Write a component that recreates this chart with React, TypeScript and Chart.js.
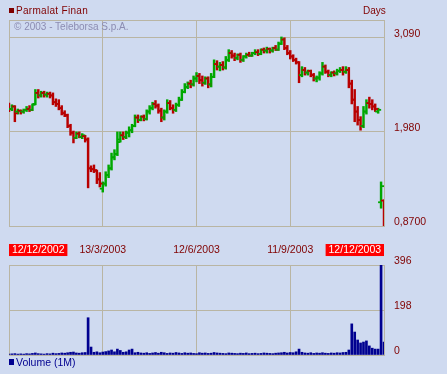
import React, { useEffect, useRef } from 'react';
import { Chart, registerables } from 'chart.js';

Chart.register(...registerables);

// ---- data (trading-day index 0..128, 12/12/2002 .. 12/12/2003) ----
const openP = [
  2.29, 2.25, 2.28, 2.22, 2.23, 2.22, 2.24, 2.25, 2.24, 2.31,
  2.44, 2.41, 2.44, 2.42, 2.43, 2.41, 2.33, 2.31, 2.26, 2.20,
  2.17, 2.05, 1.97, 1.91, 1.96, 1.92, 1.93, 1.89, 1.55, 1.54,
  1.52, 1.42, 1.31, 1.37, 1.47, 1.55, 1.68, 1.72, 1.89, 1.94,
  1.92, 1.97, 2.00, 2.05, 2.15, 2.12, 2.16, 2.13, 2.22, 2.26,
  2.31, 2.29, 2.23, 2.15, 2.22, 2.32, 2.26, 2.24, 2.30, 2.36,
  2.45, 2.51, 2.55, 2.54, 2.61, 2.64, 2.59, 2.56, 2.61, 2.54,
  2.63, 2.78, 2.75, 2.77, 2.74, 2.83, 2.91, 2.88, 2.85, 2.89,
  2.83, 2.87, 2.89, 2.88, 2.91, 2.92, 2.90, 2.95, 2.94, 2.96,
  2.94, 2.97, 2.95, 3.02, 3.07, 2.97, 2.91, 2.87, 2.83, 2.80,
  2.65, 2.71, 2.68, 2.70, 2.65, 2.61, 2.62, 2.67, 2.75, 2.69,
  2.65, 2.68, 2.67, 2.70, 2.71, 2.69, 2.71, 2.55, 2.36, 2.22,
  2.12, 2.05, 2.22, 2.32, 2.31, 2.28, 2.22, 1.15, 1.17,
];
const highP = [
  2.32, 2.30, 2.29, 2.25, 2.24, 2.25, 2.28, 2.29, 2.31, 2.48,
  2.48, 2.46, 2.46, 2.45, 2.45, 2.44, 2.37, 2.36, 2.29, 2.23,
  2.19, 2.07, 1.99, 1.98, 1.98, 1.96, 1.94, 1.91, 1.58, 1.59,
  1.53, 1.50, 1.39, 1.51, 1.59, 1.73, 1.77, 1.98, 1.98, 1.98,
  1.99, 2.04, 2.07, 2.18, 2.18, 2.17, 2.18, 2.24, 2.29, 2.33,
  2.35, 2.31, 2.26, 2.24, 2.36, 2.35, 2.30, 2.32, 2.39, 2.48,
  2.55, 2.57, 2.59, 2.64, 2.68, 2.67, 2.64, 2.63, 2.63, 2.67,
  2.83, 2.82, 2.80, 2.81, 2.87, 2.95, 2.94, 2.91, 2.90, 2.91,
  2.88, 2.91, 2.92, 2.92, 2.95, 2.95, 2.96, 2.97, 2.98, 2.97,
  2.98, 3.00, 3.04, 3.10, 3.09, 3.00, 2.94, 2.89, 2.85, 2.81,
  2.75, 2.74, 2.71, 2.71, 2.67, 2.64, 2.69, 2.80, 2.77, 2.71,
  2.69, 2.70, 2.72, 2.74, 2.75, 2.75, 2.74, 2.59, 2.48, 2.28,
  2.16, 2.28, 2.36, 2.39, 2.36, 2.31, 2.26, 1.39, 1.18,
];
const lowP = [
  2.22, 2.23, 2.10, 2.19, 2.19, 2.20, 2.22, 2.22, 2.23, 2.30,
  2.38, 2.39, 2.39, 2.39, 2.38, 2.30, 2.28, 2.24, 2.18, 2.16,
  2.03, 1.94, 1.85, 1.90, 1.91, 1.90, 1.86, 1.32, 1.51, 1.50,
  1.37, 1.33, 1.27, 1.34, 1.44, 1.53, 1.65, 1.70, 1.86, 1.89,
  1.90, 1.92, 1.97, 2.04, 2.09, 2.11, 2.11, 2.12, 2.19, 2.24,
  2.26, 2.20, 2.10, 2.12, 2.20, 2.24, 2.20, 2.22, 2.28, 2.35,
  2.44, 2.49, 2.50, 2.52, 2.57, 2.55, 2.52, 2.54, 2.50, 2.51,
  2.62, 2.71, 2.70, 2.71, 2.72, 2.81, 2.85, 2.82, 2.83, 2.80,
  2.81, 2.85, 2.87, 2.87, 2.89, 2.88, 2.89, 2.91, 2.91, 2.91,
  2.92, 2.94, 2.94, 3.01, 2.95, 2.89, 2.84, 2.81, 2.78, 2.56,
  2.63, 2.65, 2.65, 2.63, 2.58, 2.57, 2.59, 2.65, 2.67, 2.63,
  2.63, 2.64, 2.65, 2.68, 2.65, 2.67, 2.50, 2.31, 2.10, 2.06,
  2.00, 2.03, 2.19, 2.26, 2.24, 2.22, 2.20, 1.08, 0.86,
];
const closeP = [
  2.25, 2.28, 2.20, 2.23, 2.22, 2.24, 2.25, 2.24, 2.30, 2.44,
  2.41, 2.44, 2.42, 2.43, 2.41, 2.33, 2.31, 2.26, 2.20, 2.18,
  2.05, 1.97, 1.91, 1.96, 1.92, 1.94, 1.89, 1.55, 1.54, 1.53,
  1.42, 1.37, 1.37, 1.47, 1.55, 1.68, 1.72, 1.86, 1.94, 1.92,
  1.97, 2.00, 2.05, 2.15, 2.12, 2.16, 2.13, 2.22, 2.26, 2.31,
  2.29, 2.23, 2.15, 2.22, 2.32, 2.26, 2.24, 2.30, 2.36, 2.45,
  2.51, 2.55, 2.54, 2.61, 2.64, 2.59, 2.56, 2.61, 2.54, 2.63,
  2.78, 2.75, 2.77, 2.74, 2.83, 2.91, 2.88, 2.85, 2.89, 2.83,
  2.87, 2.89, 2.88, 2.91, 2.92, 2.90, 2.95, 2.94, 2.96, 2.94,
  2.97, 2.95, 3.02, 3.07, 2.97, 2.91, 2.87, 2.83, 2.80, 2.65,
  2.71, 2.68, 2.70, 2.65, 2.61, 2.62, 2.67, 2.75, 2.69, 2.65,
  2.68, 2.67, 2.70, 2.71, 2.69, 2.71, 2.55, 2.36, 2.22, 2.12,
  2.05, 2.22, 2.32, 2.31, 2.28, 2.25, 2.24, 1.34, 1.00,
];
const volumeM = [
  4, 5, 6, 4, 5, 4, 6, 5, 7, 9,
  6, 5, 4, 6, 5, 8, 6, 7, 9, 8,
  10, 12, 13, 9, 8, 10, 11, 164, 35, 12,
  14, 10, 13, 15, 18, 22, 14, 26, 20, 12,
  14, 22, 26, 10, 12, 9, 8, 10, 7, 9,
  11, 8, 12, 10, 7, 9, 8, 11, 9, 7,
  10, 8, 9, 7, 6, 10, 8, 9, 7, 8,
  11, 9, 8, 7, 6, 9, 8, 7, 6, 8,
  7, 9, 6, 7, 8, 6, 7, 9, 8, 7,
  6, 8, 9, 10, 12, 9, 11, 10, 14, 26,
  12, 9, 8, 10, 7, 9, 8, 10, 8, 7,
  9, 8, 10, 9, 11, 12, 22, 137, 101, 66,
  53, 57, 62, 40, 30, 26, 26, 396, 57,
];

const dateTickPositions = [0, 32, 64, 96, 128];
const dateTickLabels = ['12/12/2002', '13/3/2003', '12/6/2003', '11/9/2003', '12/12/2003'];
const priceTickValues = [0.87, 1.98, 3.09];
const priceTickLabels = ['0,8700', '1,980', '3,090'];
const priceMin = 0.87;
const priceMax = 3.30;
const volumeTickValues = [0, 198, 396];
const volumeTickLabels = ['0', '198', '396'];

// ---- styles ----
const GREEN = '#00A800';
const RED = '#B80000';
const GRID = '#B9B5A3';
const TEXT = '#800000';
const NAVY = '#000090';
const BG = '#CFDAF0';
const FONT = "'Liberation Sans', Arial, sans-serif";

const noPad = (s: any) => {
  s.paddingTop = 0;
  s.paddingBottom = 0;
  s.paddingLeft = 0;
  s.paddingRight = 0;
};

export default function App() {
  const priceRef = useRef<HTMLCanvasElement>(null);
  const volRef = useRef<HTMLCanvasElement>(null);

  useEffect(() => {
    Chart.defaults.font.family = FONT;
    const days = openP.map((_, i) => i);
    const colors = days.map((i) => (closeP[i] >= openP[i] ? GREEN : RED));
    const tickOff = 0.51;

    const priceChart = new Chart(priceRef.current as HTMLCanvasElement, {
      type: 'bar',
      data: {
        datasets: [
          {
            type: 'bar',
            data: days.map((i) => ({ x: i, y: [lowP[i], highP[i]] })) as any,
            backgroundColor: colors,
            borderWidth: 0,
            barThickness: 1.8,
            order: 2,
          } as any,
          {
            type: 'line',
            data: days.map((i) => ({ x: i - tickOff, y: openP[i] })),
            showLine: false,
            pointStyle: 'line',
            pointRadius: 1.5,
            pointHoverRadius: 1.5,
            pointBorderWidth: 1.8,
            pointBorderColor: colors,
            pointBackgroundColor: colors,
            order: 1,
          } as any,
          {
            type: 'line',
            data: days.map((i) => ({ x: i + tickOff, y: closeP[i] })),
            showLine: false,
            pointStyle: 'line',
            pointRadius: 1.5,
            pointHoverRadius: 1.5,
            pointBorderWidth: 1.8,
            pointBorderColor: colors,
            pointBackgroundColor: colors,
            order: 1,
          } as any,
        ],
      },
      options: {
        animation: false,
        responsive: false,
        events: [],
        layout: { autoPadding: false, padding: { left: 9, top: 20, right: 0, bottom: 0 } },
        plugins: { legend: { display: false }, tooltip: { enabled: false } },
        scales: {
          x: {
            type: 'linear',
            min: 0,
            max: 128,
            offset: false,
            position: 'bottom',
            afterBuildTicks: (s: any) => {
              s.ticks = dateTickPositions.map((v) => ({ value: v }));
            },
            afterFit: (s: any) => {
              s.height = 34;
              noPad(s);
            },
            grid: { color: GRID, drawTicks: false, offset: false, lineWidth: 1 },
            border: { display: true, color: GRID },
            ticks: {
              autoSkip: false,
              maxRotation: 0,
              minRotation: 0,
              align: 'inner',
              padding: 19,
              font: { family: FONT, size: 10.5, lineHeight: 1.05 },
              color: (ctx: any) => (ctx.index === 0 || ctx.index === dateTickPositions.length - 1 ? '#FFFFFF' : TEXT),
              showLabelBackdrop: true,
              backdropColor: (ctx: any) =>
                ctx.index === 0 || ctx.index === dateTickPositions.length - 1 ? '#FF0000' : 'rgba(0,0,0,0)',
              backdropPadding: { left: 0, right: 0, top: 1, bottom: 0 },
              callback: (v: any) => {
                const k = dateTickPositions.indexOf(v);
                const t = k >= 0 ? dateTickLabels[k] : '';
                return k === 0 || k === dateTickPositions.length - 1 ? ' ' + t + ' ' : t;
              },
            },
          } as any,
          y: {
            type: 'linear',
            position: 'right',
            min: priceMin,
            max: priceMax,
            afterBuildTicks: (s: any) => {
              s.ticks = [...priceTickValues, priceMax].map((v) => ({ value: v }));
            },
            afterFit: (s: any) => {
              s.width = 63;
              noPad(s);
            },
            grid: { color: GRID, drawTicks: false, lineWidth: 1 },
            border: { display: true, color: GRID },
            ticks: {
              padding: 10,
              labelOffset: -4,
              color: TEXT,
              font: { family: FONT, size: 10.5 },
              callback: (v: any) => {
                const k = priceTickValues.indexOf(v);
                return k >= 0 ? priceTickLabels[k] : '';
              },
            },
          } as any,
        },
      },
    });

    const volChart = new Chart(volRef.current as HTMLCanvasElement, {
      type: 'bar',
      data: {
        datasets: [
          {
            data: days.map((i) => ({ x: i, y: volumeM[i] })) as any,
            backgroundColor: NAVY,
            borderWidth: 0,
            barThickness: 2,
          } as any,
        ],
      },
      options: {
        animation: false,
        responsive: false,
        events: [],
        layout: { autoPadding: false, padding: { left: 9, top: 15, right: 0, bottom: 19 } },
        plugins: { legend: { display: false }, tooltip: { enabled: false } },
        scales: {
          x: {
            type: 'linear',
            min: 0,
            max: 128,
            offset: false,
            afterBuildTicks: (s: any) => {
              s.ticks = dateTickPositions.map((v) => ({ value: v }));
            },
            afterFit: (s: any) => {
              s.height = 0;
              noPad(s);
            },
            grid: { color: GRID, drawTicks: false, offset: false },
            border: { display: true, color: GRID },
            ticks: { display: false },
          } as any,
          y: {
            type: 'linear',
            position: 'right',
            min: 0,
            max: 396,
            afterBuildTicks: (s: any) => {
              s.ticks = volumeTickValues.map((v) => ({ value: v }));
            },
            afterFit: (s: any) => {
              s.width = 63;
              noPad(s);
            },
            grid: { color: GRID, drawTicks: false },
            border: { display: true, color: GRID },
            ticks: {
              padding: 10,
              labelOffset: -4,
              color: TEXT,
              font: { family: FONT, size: 10.5 },
              callback: (v: any) => {
                const k = volumeTickValues.indexOf(v);
                return k >= 0 ? volumeTickLabels[k] : '';
              },
            },
          } as any,
        },
      },
    });

    return () => {
      priceChart.destroy();
      volChart.destroy();
    };
  }, []);

  const txt: React.CSSProperties = {
    position: 'absolute',
    fontFamily: FONT,
    whiteSpace: 'nowrap',
    lineHeight: '12px',
  };

  return (
    <div style={{ position: 'fixed', left: 0, top: 0, width: 447, height: 374, background: BG, overflow: 'hidden' }}>
      <canvas ref={priceRef} width={447} height={260} style={{ position: 'absolute', left: 0, top: 0 }} />
      <canvas ref={volRef} width={447} height={124} style={{ position: 'absolute', left: 0, top: 250 }} />
      <div style={{ position: 'absolute', left: 9, top: 8, width: 5, height: 5, background: TEXT }} />
      <div style={{ ...txt, left: 16, top: 5, fontSize: 10, letterSpacing: 0.3, color: TEXT }}>Parmalat Finan</div>
      <div style={{ ...txt, left: 363, top: 5, fontSize: 10, color: TEXT }}>Days</div>
      <div style={{ ...txt, left: 14, top: 21, fontSize: 10, color: '#8C8CB2' }}>© 2003 - Teleborsa S.p.A.</div>
      <div style={{ position: 'absolute', left: 9, top: 359, width: 5, height: 6, background: NAVY }} />
      <div style={{ ...txt, left: 16, top: 356, fontSize: 10.5, color: NAVY }}>Volume (1M)</div>
    </div>
  );
}
